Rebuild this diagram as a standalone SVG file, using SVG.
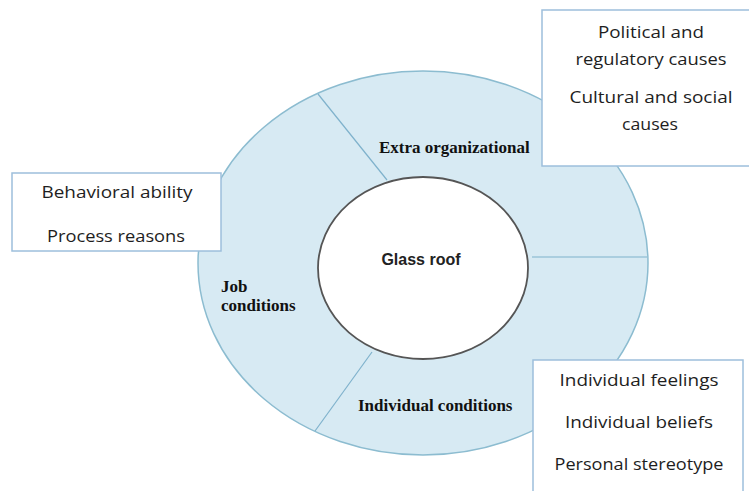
<svg xmlns="http://www.w3.org/2000/svg" width="749" height="491" viewBox="0 0 749 491">
<style>
.ring{fill:#d7eaf3;stroke:#8cbcd0;stroke-width:1.5}
.div{stroke:#7fb2cc;stroke-width:1.2;fill:none}
.core{fill:#ffffff;stroke:#555555;stroke-width:1.8}
.box{fill:#ffffff;stroke:#9dbfdc;stroke-width:1.5}
.bt{font-family:"Open Sans","Liberation Sans",sans-serif;font-size:17px;fill:#1e1e1e;text-anchor:middle}
.lbl{font-family:"Liberation Serif","Times New Roman",serif;font-size:17px;font-weight:bold;fill:#111111}
.ctr{font-family:"Liberation Sans",Arial,sans-serif;font-size:16px;font-weight:bold;fill:#222222;text-anchor:middle}
</style>
<rect width="749" height="491" fill="#ffffff"/>
<g id="ring">
<ellipse class="ring" cx="423" cy="263" rx="225" ry="192"/>
</g>
<g id="connectors">
<line class="div" x1="318" y1="94" x2="387" y2="180"/>
<line class="div" x1="532" y1="257" x2="647" y2="257"/>
<line class="div" x1="372" y1="352" x2="315" y2="431"/>
</g>
<g id="glass-roof">
<ellipse class="core" cx="423" cy="268" rx="105" ry="91"/>
<text class="ctr" x="421" y="265">Glass roof</text>
</g>
<g id="extra-organizational">
<text class="lbl" x="379" y="153">Extra organizational</text>
</g>
<g id="job-conditions">
<text class="lbl" x="221" y="292">Job</text>
<text class="lbl" x="221" y="311">conditions</text>
</g>
<g id="individual-conditions">
<text class="lbl" x="358" y="411">Individual conditions</text>
</g>
<g id="box-left">
<rect class="box" x="12" y="173" width="209" height="78"/>
<text class="bt" x="117" y="198" textLength="151" lengthAdjust="spacingAndGlyphs">Behavioral ability</text>
<text class="bt" x="116" y="242" textLength="138" lengthAdjust="spacingAndGlyphs">Process reasons</text>
</g>
<g id="box-top-right">
<rect class="box" x="542" y="10" width="215" height="156"/>
<text class="bt" x="651" y="38" textLength="106" lengthAdjust="spacingAndGlyphs">Political and</text>
<text class="bt" x="651" y="65" textLength="151" lengthAdjust="spacingAndGlyphs">regulatory causes</text>
<text class="bt" x="651" y="103" textLength="163" lengthAdjust="spacingAndGlyphs">Cultural and social</text>
<text class="bt" x="650" y="130" textLength="56" lengthAdjust="spacingAndGlyphs">causes</text>
</g>
<g id="box-bottom-right">
<rect class="box" x="533" y="360" width="210" height="140"/>
<text class="bt" x="639" y="386" textLength="159" lengthAdjust="spacingAndGlyphs">Individual feelings</text>
<text class="bt" x="639" y="428" textLength="148" lengthAdjust="spacingAndGlyphs">Individual beliefs</text>
<text class="bt" x="639" y="470" textLength="169" lengthAdjust="spacingAndGlyphs">Personal stereotype</text>
</g>
</svg>
